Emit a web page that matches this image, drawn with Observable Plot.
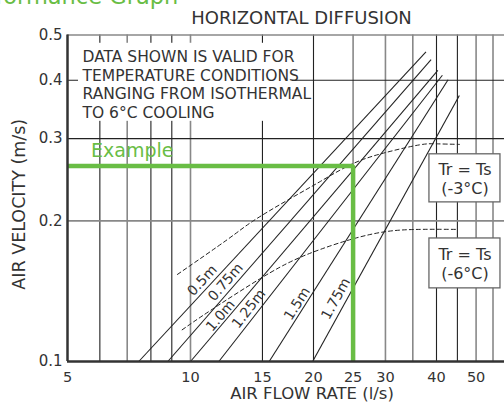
<!DOCTYPE html>
<html><head><meta charset="utf-8">
<script src="https://cdn.jsdelivr.net/npm/d3@7"></script>
<script src="https://cdn.jsdelivr.net/npm/@observablehq/plot@0.6"></script>
<style>
html,body{margin:0;padding:0;background:#fff;overflow:hidden;}
#chart{position:relative;width:504px;height:403px;overflow:hidden;}
</style></head><body><div id="chart"></div>
<script>
// ---- texts ----
const header = "Performance Graph";
const title = "HORIZONTAL DIFFUSION";
const xLabel = "AIR FLOW RATE (l/s)";
const yLabel = "AIR VELOCITY (m/s)";
const note = "DATA SHOWN IS VALID FOR\nTEMPERATURE CONDITIONS\nRANGING FROM ISOTHERMAL\nTO 6°C COOLING";
const exampleText = "Example";

// ---- ticks & grid ----
const xTicks = [5, 10, 15, 20, 25, 30, 40, 50];
const yTicks = [0.1, 0.2, 0.3, 0.4, 0.5];
const gridXDark = [6, 8, 9, 15, 20, 40, 45];
const gridXLight = [7, 10, 25, 30, 35, 50, 55];
const gridYDark = [0.3, 0.4];
const gridYLight = [0.2, 0.5];

// ---- throw lines (start at 0.1 m/s, end at top) ----
const throwLabels = ["0.5m", "0.75m", "1.0m", "1.25m", "1.5m", "1.75m"];
const throwStartFlow = [7.47, 8.80, 10.0, 11.73, 15.58, 19.9];
const throwEndFlow = [37.7, 38.8, 40.3, 41.35, 42.7, 45.5];
const throwEndVel = [0.460, 0.443, 0.420, 0.410, 0.401, 0.371];
const throwLabelFlow = [10.68, 12.18, 11.84, 13.89, 18.24, 22.68];
const throwLabelVel = [0.1491, 0.1479, 0.1254, 0.1297, 0.1329, 0.1362];

// ---- temperature curves ----
const curveNames = ["Tr = Ts\n(-3°C)", "Tr = Ts\n(-6°C)"];
const cool3Flow = [9.29, 12.32, 14.18, 17.08, 20.8, 25.06, 30.17, 36.33, 40.21, 45.5];
const cool3Vel  = [0.1536, 0.1825, 0.1995, 0.2202, 0.243, 0.2656, 0.2804, 0.2909, 0.2924, 0.2916];
const cool6Flow = [9.54, 11.19, 14.84, 17.86, 20.8, 25.06, 30.34, 36.53, 44.5];
const cool6Vel  = [0.1169, 0.1286, 0.1506, 0.1646, 0.1738, 0.1832, 0.1899, 0.1918, 0.1918];

// ---- example ----
const exampleFlow = 25;
const exampleVel = 0.262;

// build tables
const throws = throwLabels.map((label, i) => ({
  label, f1: throwStartFlow[i], v1: 0.1, f2: throwEndFlow[i], v2: throwEndVel[i],
  lf: throwLabelFlow[i], lv: throwLabelVel[i]
}));
const cool3 = cool3Flow.map((f, i) => ({f, v: cool3Vel[i]}));
const cool6 = cool6Flow.map((f, i) => ({f, v: cool6Vel[i]}));
const boxes = [
  {label: curveNames[0], f1: 38.44, f2: 57.36, v1: 0.2191, v2: 0.2777},
  {label: curveNames[1], f1: 38.44, f2: 57.36, v1: 0.1434, v2: 0.1834}
];
const examplePath = [{f: 5, v: exampleVel}, {f: exampleFlow, v: exampleVel}, {f: exampleFlow, v: 0.1}];

const W = 504, H = 403;
const mL = 67, mR = 0, mT = 34.5, mB = 42;
const xDomain = [5, 58.68], yDomain = [0.1, 0.5];
const xs = Plot.scale({x: {type: "log", domain: xDomain, range: [mL, W - mR]}});
const ys = Plot.scale({y: {type: "log", domain: yDomain, range: [H - mB, mT]}});
const angle = d => Math.atan2(ys.apply(d.v2) - ys.apply(d.v1), xs.apply(d.f2) - xs.apply(d.f1)) * 180 / Math.PI;

const green = "#69bd45";
const ink = "#222";
const txt = "#333";

const chart = Plot.plot({
  width: W, height: H,
  marginLeft: mL, marginRight: mR, marginTop: mT, marginBottom: mB,
  x: {type: "log", domain: xDomain},
  y: {type: "log", domain: yDomain},
  style: {fontFamily: "DejaVu Sans", background: "white", color: txt, overflow: "visible"},
  marks: [
    Plot.ruleX(gridXLight, {stroke: "#888", strokeWidth: 1.6}),
    Plot.ruleX(gridXDark, {stroke: ink, strokeWidth: 1.1}),
    Plot.ruleY(gridYLight, {stroke: "#888", strokeWidth: 1.6}),
    Plot.ruleY(gridYDark, {stroke: ink, strokeWidth: 1.1}),
    // note backdrop
    Plot.rect([0], {x1: 5.32, x2: 17.76, y1: 0.3267, y2: 0.48, fill: "white"}),
    Plot.text([note], {frameAnchor: "top-left", dx: 15, dy: 14, textAnchor: "start", lineAnchor: "top",
      fontSize: 15.5, lineHeight: 1.2, fill: txt}),
    // temperature curves
    Plot.line(cool3, {x: "f", y: "v", curve: "natural", stroke: ink, strokeWidth: 1, strokeDasharray: "4,3"}),
    Plot.line(cool6, {x: "f", y: "v", curve: "natural", stroke: ink, strokeWidth: 1, strokeDasharray: "4,3"}),
    // throw lines
    Plot.link(throws, {x1: "f1", y1: "v1", x2: "f2", y2: "v2", stroke: ink, strokeWidth: 1.1}),
    Plot.text(throws, {x: "lf", y: "lv", text: "label", rotate: angle, fontSize: 14, fill: txt}),
    // boxes
    Plot.rect(boxes, {x1: "f1", x2: "f2", y1: "v1", y2: "v2", fill: "white", stroke: "#666", strokeWidth: 1.3}),
    Plot.text(boxes, {x: d => Math.sqrt(d.f1 * d.f2), y: d => Math.sqrt(d.v1 * d.v2), text: "label",
      fontSize: 16, lineHeight: 1.22, fill: txt}),
    // example
    Plot.line(examplePath, {x: "f", y: "v", stroke: green, strokeWidth: 4.5, strokeLinejoin: "miter", strokeLinecap: "butt"}),
    Plot.text([exampleText], {x: () => 5, y: () => exampleVel, dx: 23.5, dy: -15, textAnchor: "start",
      fontSize: 19, fill: green}),
    // axis lines
    Plot.ruleX([5], {stroke: "#333", strokeWidth: 2.5}),
    Plot.ruleY([0.1], {stroke: "#333", strokeWidth: 2.5}),
    Plot.axisX({ticks: xTicks, tickSize: 0, tickPadding: 10, fontSize: 14.5, label: null, tickFormat: d => `${d}`}),
    Plot.axisY({ticks: yTicks, tickSize: 0, tickPadding: 5, fontSize: 15, label: null, tickFormat: d => d.toFixed(1)}),
    // labels
    Plot.text([xLabel], {frameAnchor: "bottom", dx: 26, dy: 32.5, lineAnchor: "middle", fontSize: 16.5, fill: txt}),
    Plot.text([yLabel], {frameAnchor: "left", dx: -48, dy: 6, rotate: -90, textAnchor: "middle", lineAnchor: "middle", fontSize: 17.5, fill: txt}),
    Plot.text([title], {frameAnchor: "top", dx: 15.5, dy: -16.5, lineAnchor: "middle", fontSize: 18, fill: txt}),
    Plot.text([header], {frameAnchor: "top-left", dx: -108, dy: -38, textAnchor: "start", lineAnchor: "middle",
      fontSize: 22.5, fill: green})
  ]
});
document.getElementById("chart").appendChild(chart);
</script></body></html>
